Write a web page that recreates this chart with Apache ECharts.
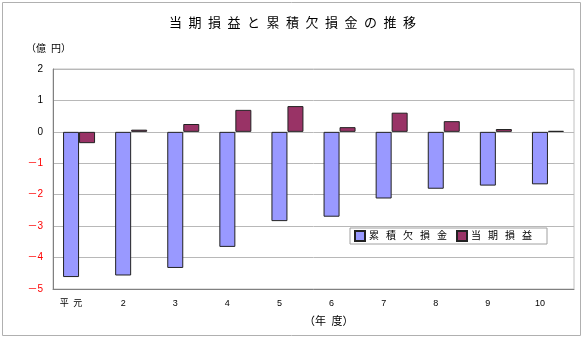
<!DOCTYPE html>
<html><head><meta charset="utf-8">
<script src="https://cdn.jsdelivr.net/npm/echarts@6/dist/echarts.min.js"></script>
<style>html,body{margin:0;padding:0;background:#fff}#c{width:585px;height:340px}</style>
</head><body><div id="c"></div>
<script>
const categories = ['平\u2002元','2','3','4','5','6','7','8','9','10'];
const deficit = [-4.62,-4.57,-4.33,-3.66,-2.84,-2.70,-2.12,-1.81,-1.71,-1.67];
const profit = [-0.36,0.07,0.25,0.70,0.82,0.15,0.61,0.34,0.09,0.03];
const SP = '\u2002\u2009';
const seriesNames = ['累'+SP+'積'+SP+'欠'+SP+'損'+SP+'金','当'+SP+'期'+SP+'損'+SP+'益'];
const titleText = '当\u2002期\u2002損\u2002益\u2002と\u2002累\u2002積\u2002欠\u2002損\u2002金\u2002の\u2002推\u2002移';
const chart = echarts.init(document.getElementById('c'));
const FONT = '"Liberation Sans", "Noto Sans CJK JP", sans-serif';
chart.setOption({
  animation: false,
  backgroundColor: '#fff',
  textStyle: {fontFamily: FONT},
  title: {text: titleText, left: 'center', top: 12, textStyle: {fontSize: 13, fontWeight: 'normal', color: '#000', fontFamily: FONT}},
  graphic: [
    {type: 'rect', shape: {x: 2.5, y: 2.5, width: 578, height: 333}, style: {fill: 'none', stroke: '#b0b0b0', lineWidth: 1}, z: -1},
    {type: 'text', left: 26, top: 44, style: {text: '（億\u2002円）', fontSize: 10, fill: '#000', fontFamily: FONT}},
    {type: 'text', left: 304, top: 316, style: {text: '（年\u2002度）', fontSize: 11, fill: '#000', fontFamily: FONT}}
  ],
  legend: {
    data: seriesNames,
    left: 350, top: 228,
    orient: 'horizontal',
    itemWidth: 10, itemHeight: 10, itemGap: 9,
    padding: [2, 15, 2, 4],
    backgroundColor: '#fff', borderColor: '#a0a0a0', borderWidth: 1,
    textStyle: {fontSize: 10, color: '#000', padding: [0,0,0,-1]},
    icon: 'rect'
  },
  grid: {left: 53, right: 11, top: 69, bottom: 51, show: true, borderColor: '#c0c0c0', borderWidth: 1, backgroundColor: '#fff'},
  xAxis: {
    type: 'category', data: categories,
    axisLine: {onZero: false, lineStyle: {color: '#808080'}},
    axisTick: {show: false},
    axisLabel: {fontSize: 9, color: '#000', margin: 10, padding: [0, 16, 0, 0]}
  },
  yAxis: {
    type: 'value', min: -5, max: 2, interval: 1,
    axisLine: {show: true, lineStyle: {color: '#808080'}},
    axisTick: {show: false},
    splitLine: {lineStyle: {color: '#b8b8b8'}},
    axisLabel: {
      fontSize: 10, margin: 10,
      formatter: v => v < 0 ? '{n|－' + (-v) + '}' : '{p|' + v + '}',
      rich: {n: {color: '#ff0000', fontSize: 10}, p: {color: '#000', fontSize: 10}}
    }
  },
  series: [
    {name: seriesNames[0], type: 'bar', data: deficit, barWidth: 16, barGap: '0%',
     itemStyle: {color: '#9999ff', borderColor: '#222', borderWidth: 1}},
    {name: seriesNames[1], type: 'bar', data: profit, barWidth: 16,
     itemStyle: {color: '#993366', borderColor: '#222', borderWidth: 1}}
  ]
});
</script></body></html>
